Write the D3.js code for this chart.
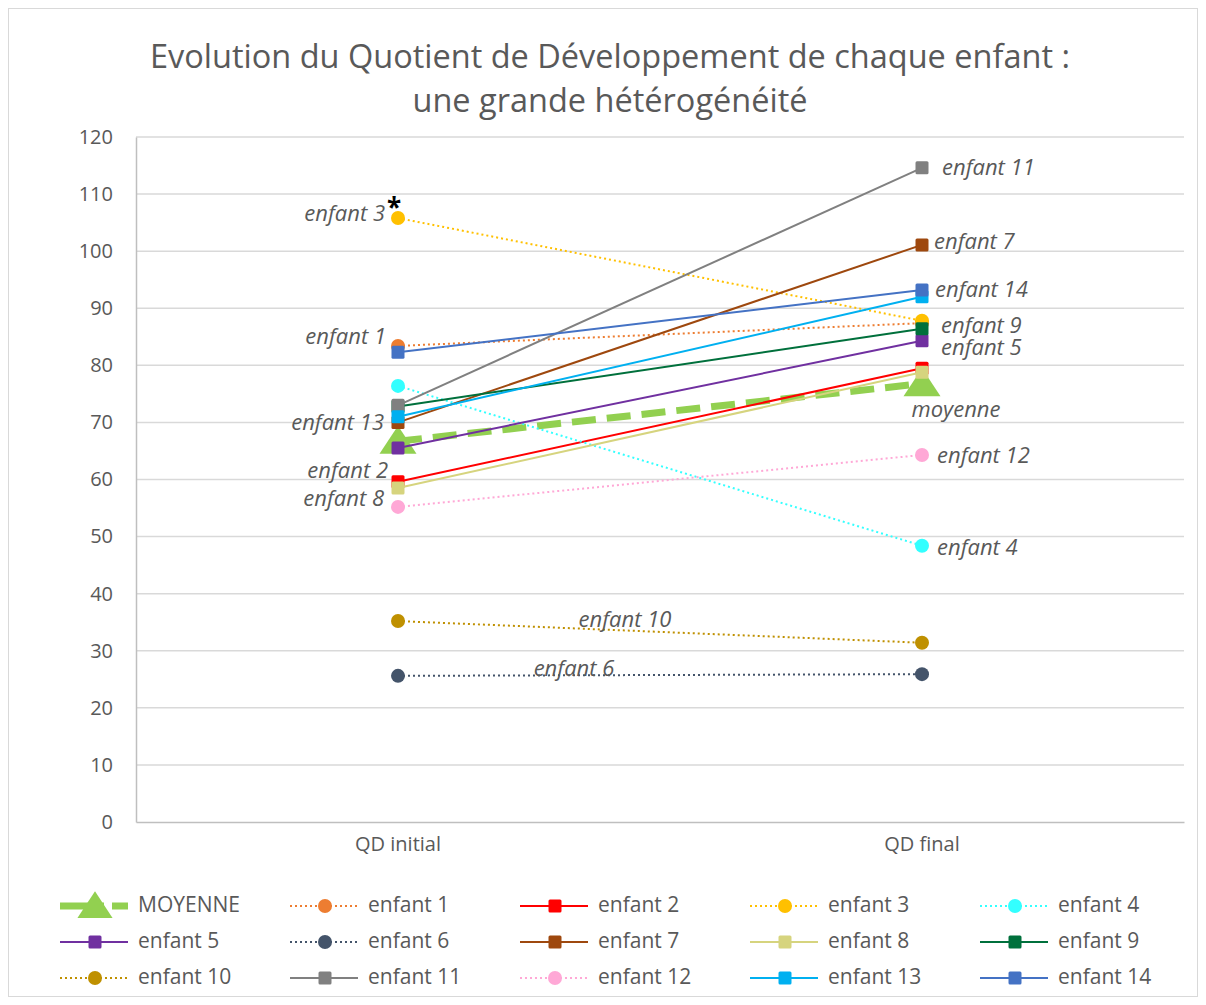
<!DOCTYPE html>
<html>
<head>
<meta charset="utf-8">
<script src="https://cdn.jsdelivr.net/npm/d3@7"></script>
<style>
  body { margin: 0; background: #fff; }
  svg { font-family: "Open Sans", sans-serif; }
</style>
</head>
<body>
<svg id="chart"></svg>
<script>
const width = 1206;
const height = 1005;

// data
const categories = ['QD initial', 'QD final'];
const seriesNames = ['MOYENNE', 'enfant 1', 'enfant 2', 'enfant 3', 'enfant 4', 'enfant 5', 'enfant 6', 'enfant 7',
  'enfant 8', 'enfant 9', 'enfant 10', 'enfant 11', 'enfant 12', 'enfant 13', 'enfant 14'];
const initialValues = [66.7, 83.4, 59.6, 105.8, 76.4, 65.5, 25.6, 70.0, 58.5, 72.8, 35.2, 73.0, 55.2, 71.0, 82.3];
const finalValues = [76.8, 87.4, 79.5, 87.8, 48.4, 84.3, 25.9, 101.1, 78.8, 86.4, 31.4, 114.6, 64.3, 92.0, 93.2];
const yTicks = [0, 10, 20, 30, 40, 50, 60, 70, 80, 90, 100, 110, 120];

// styles
const colors = ['#92D050', '#ED7D31', '#FF0000', '#FFC000', '#33FFFF', '#7030A0', '#44546A', '#9E480E',
  '#D6D47E', '#00703C', '#BF9000', '#808080', '#FFA8D6', '#00B0F0', '#4472C4'];
const kinds = ['mean', 'dot', 'solid', 'dot', 'dot', 'solid', 'dot', 'solid',
  'solid', 'solid', 'dot', 'solid', 'dot', 'solid', 'solid'];

// data labels: which point, offsets and anchor
const labels = [
  { s: 0, p: 1, text: 'moyenne', dx: 34, dy: 28, anchor: 'middle' },
  { s: 1, p: 0, text: 'enfant 1', dx: -12, dy: -8, anchor: 'end' },
  { s: 2, p: 0, text: 'enfant 2', dx: -10, dy: -10, anchor: 'end' },
  { s: 3, p: 0, text: 'enfant 3', dx: -13, dy: -3, anchor: 'end' },
  { s: 4, p: 1, text: 'enfant 4', dx: 15, dy: 3, anchor: 'start' },
  { s: 5, p: 1, text: 'enfant 5', dx: 19, dy: 8, anchor: 'start' },
  { s: 6, p: 0, text: 'enfant 6', dx: 176, dy: -6, anchor: 'middle' },
  { s: 7, p: 1, text: 'enfant 7', dx: 12, dy: -2, anchor: 'start' },
  { s: 8, p: 0, text: 'enfant 8', dx: -14, dy: 12, anchor: 'end' },
  { s: 9, p: 1, text: 'enfant 9', dx: 19, dy: -2, anchor: 'start' },
  { s: 10, p: 0, text: 'enfant 10', dx: 227, dy: 0, anchor: 'middle' },
  { s: 11, p: 1, text: 'enfant 11', dx: 20, dy: 1, anchor: 'start' },
  { s: 12, p: 1, text: 'enfant 12', dx: 15, dy: 2, anchor: 'start' },
  { s: 13, p: 0, text: 'enfant 13', dx: -14, dy: 7, anchor: 'end' },
  { s: 14, p: 1, text: 'enfant 14', dx: 13, dy: 1, anchor: 'start' }
];

const series = seriesNames.map((name, i) => ({
  name, i, color: colors[i], kind: kinds[i],
  values: [initialValues[i], finalValues[i]]
}));

const svg = d3.select('#chart')
  .attr('width', width)
  .attr('height', height);

svg.append('rect')
  .attr('x', 8.5).attr('y', 8.5)
  .attr('width', width - 17).attr('height', height - 17)
  .attr('fill', '#fff')
  .attr('stroke', '#d9d9d9');

const margin = { left: 136, right: 22, top: 137, bottom: 183 };

const x = d3.scaleBand()
  .domain(categories)
  .range([margin.left, width - margin.right]);

const y = d3.scaleLinear()
  .domain([0, 120])
  .range([height - margin.bottom, margin.top]);

const cx = c => x(c) + x.bandwidth() / 2;

// title
const title = svg.append('text')
  .attr('text-anchor', 'middle')
  .attr('fill', '#595959')
  .attr('font-size', 32.5);
title.append('tspan').attr('x', 610).attr('y', 68)
  .text('Evolution du Quotient de Développement de chaque enfant :');
title.append('tspan').attr('x', 610).attr('y', 112)
  .text('une grande hétérogénéité');

// grid
svg.append('g')
  .selectAll('line')
  .data(yTicks.filter(d => d > 0))
  .enter().append('line')
  .attr('x1', margin.left).attr('x2', width - margin.right)
  .attr('y1', d => y(d)).attr('y2', d => y(d))
  .attr('stroke', '#d9d9d9')
  .attr('stroke-width', 1.5);

// y axis
const yAxis = svg.append('g')
  .attr('transform', `translate(${margin.left},0)`)
  .call(d3.axisLeft(y).tickValues(yTicks).tickSize(0).tickPadding(23));
yAxis.select('.domain').attr('stroke', '#bfbfbf').attr('stroke-width', 1.5);
yAxis.selectAll('text').attr('fill', '#595959').attr('font-size', 20)
  .attr('font-family', '"Open Sans", sans-serif');

// x axis
const xAxis = svg.append('g')
  .attr('transform', `translate(0,${y(0)})`)
  .call(d3.axisBottom(x).tickSize(0).tickPadding(15));
xAxis.select('.domain').attr('stroke', '#bfbfbf').attr('stroke-width', 1.5);
xAxis.selectAll('text').attr('fill', '#595959').attr('font-size', 20)
  .attr('font-family', '"Open Sans", sans-serif');

// series
const line = d3.line()
  .x((d, k) => cx(categories[k]))
  .y(d => y(d));

function dashFor(kind) {
  if (kind === 'dot') return '2,3';
  if (kind === 'mean') return '24,11';
  return null;
}

function drawMarker(g, s, px, py, scale) {
  const sc = scale || 1;
  if (s.kind === 'mean') {
    const w = 37 * sc, h = 28 * sc;
    g.append('path')
      .attr('d', `M${px},${py - h * 0.55}L${px + w / 2},${py + h * 0.45}L${px - w / 2},${py + h * 0.45}Z`)
      .attr('fill', s.color);
  } else if (s.kind === 'dot') {
    g.append('circle')
      .attr('cx', px).attr('cy', py).attr('r', 7 * sc)
      .attr('fill', s.color);
  } else {
    const a = 13 * sc;
    g.append('rect')
      .attr('x', px - a / 2).attr('y', py - a / 2)
      .attr('width', a).attr('height', a)
      .attr('rx', 1.5)
      .attr('fill', s.color);
  }
}

const plot = svg.append('g');
series.forEach(s => {
  const g = plot.append('g');
  g.append('path')
    .datum(s.values)
    .attr('d', line)
    .attr('fill', 'none')
    .attr('stroke', s.color)
    .attr('stroke-width', s.kind === 'mean' ? 7 : 2)
    .attr('stroke-dasharray', dashFor(s.kind));
  s.values.forEach((v, k) => drawMarker(g, s, cx(categories[k]), y(v)));
});

// data labels
svg.append('g')
  .selectAll('text')
  .data(labels)
  .enter().append('text')
  .attr('x', d => cx(categories[d.p]) + d.dx)
  .attr('y', d => y(series[d.s].values[d.p]) + d.dy)
  .attr('text-anchor', d => d.anchor)
  .attr('dominant-baseline', 'middle')
  .attr('font-style', 'italic')
  .attr('font-size', 22)
  .attr('fill', '#595959')
  .text(d => d.text);

// asterisk after enfant 3
svg.append('text')
  .attr('x', cx(categories[0]) - 11)
  .attr('y', y(series[3].values[0]) - 1)
  .attr('font-size', 26)
  .attr('font-weight', 'bold')
  .attr('fill', '#000')
  .text('*');

// legend
const legend = svg.append('g');
const colW = 230, rowH = 36, legX = 60, legY = 906;
series.forEach((s, i) => {
  const col = i % 5, row = Math.floor(i / 5);
  const lx = legX + col * colW, ly = legY + row * rowH;
  const g = legend.append('g');
  g.append('line')
    .attr('x1', lx).attr('x2', lx + 68)
    .attr('y1', ly).attr('y2', ly)
    .attr('stroke', s.color)
    .attr('stroke-width', s.kind === 'mean' ? 7 : 2)
    .attr('stroke-dasharray', s.kind === 'mean' ? '44,8' : dashFor(s.kind));
  drawMarker(g, s, lx + 35, ly, s.kind === 'mean' ? 0.95 : 1);
  g.append('text')
    .attr('x', lx + 78).attr('y', ly)
    .attr('dominant-baseline', 'middle')
    .attr('font-size', 21)
    .attr('fill', '#595959')
    .text(s.name);
});
</script>
</body>
</html>
